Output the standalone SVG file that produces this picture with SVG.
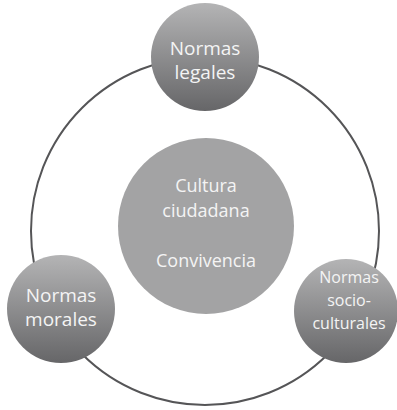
<svg xmlns="http://www.w3.org/2000/svg" width="397" height="410" viewBox="0 0 397 410">
<defs>
<linearGradient id="g" x1="0" y1="0" x2="0" y2="1">
<stop offset="0" stop-color="#b4b4b5"/>
<stop offset="1" stop-color="#666668"/>
</linearGradient>
<style>
.node{fill:url(#g);}
.t{font-family:"Open Sans","Noto Sans",sans-serif;fill:#f4f4f4;text-anchor:middle;}
.ring{fill:none;stroke:#555557;stroke-width:2;}
</style>
</defs>
<rect width="397" height="410" fill="#ffffff"/>
<g id="connectors">
<circle class="ring" cx="205" cy="231" r="174"/>
</g>
<g id="center">
<circle cx="206" cy="226" r="88" fill="#a3a3a4"/>
<text class="t" x="206" y="192" font-size="18">Cultura</text>
<text class="t" x="206" y="217" font-size="18">ciudadana</text>
<text class="t" x="206" y="267" font-size="18">Convivencia</text>
</g>
<g id="legales">
<circle class="node" cx="205" cy="57" r="54"/>
<text class="t" x="205" y="55" font-size="19">Normas</text>
<text class="t" x="205" y="79" font-size="19">legales</text>
</g>
<g id="morales">
<circle class="node" cx="61" cy="309" r="54"/>
<text class="t" x="61" y="302" font-size="19">Normas</text>
<text class="t" x="61" y="326" font-size="19">morales</text>
</g>
<g id="socioculturales">
<circle class="node" cx="346" cy="311" r="52"/>
<text class="t" x="349" y="283" font-size="16">Normas</text>
<text class="t" x="349" y="306" font-size="16">socio-</text>
<text class="t" x="349" y="329" font-size="16">culturales</text>
</g>
</svg>
